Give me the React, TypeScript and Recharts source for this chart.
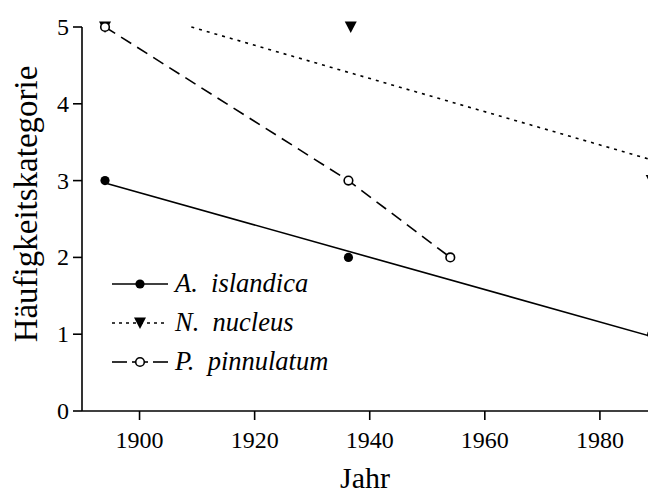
import React from 'react';
import { ComposedChart, Line, Scatter, XAxis, YAxis } from 'recharts';

const xTicks = [1900, 1920, 1940, 1960, 1980];
const yTicks = [0, 1, 2, 3, 4, 5];

// observed points
const islandicaPoints = [
  { year: 1894, value: 3 },
  { year: 1936.3, value: 2 },
  { year: 1989, value: 1 },
];
const nucleusPoints = [
  { year: 1894, value: 5 },
  { year: 1936.7, value: 5 },
  { year: 1989, value: 3 },
];
const pinnulatumPoints = [
  { year: 1894, value: 5 },
  { year: 1936.3, value: 3 },
  { year: 1954, value: 2 },
];
// fitted trend lines
const islandicaFit = [
  { year: 1894, value: 2.97 },
  { year: 1989, value: 0.97 },
];
const nucleusFit = [
  { year: 1909, value: 5 },
  { year: 1989, value: 3.27 },
];

const seriesNames = ['A. islandica', 'N. nucleus', 'P. pinnulatum'];

const FONT = '"Liberation Serif", "Times New Roman", serif';
const INK = '#000';

const DotFilled = (p: any) => <circle cx={p.cx} cy={p.cy} r={4.6} fill={INK} />;
const DotHollow = (p: any) => (
  <circle cx={p.cx} cy={p.cy} r={4.3} fill="#fff" stroke={INK} strokeWidth={1.6} />
);
const Tri = (p: any) => (
  <path
    d={`M${p.cx - 6},${p.cy - 5.5} L${p.cx + 6},${p.cy - 5.5} L${p.cx},${p.cy + 6} Z`}
    fill={INK}
  />
);

const XTick = (p: any) => (
  <text x={p.x} y={p.y} dy={24} textAnchor="middle" fontSize={24} fontFamily={FONT} fill={INK}>
    {p.payload.value}
  </text>
);
const YTick = (p: any) => (
  <text x={p.x} y={p.y} dy={8} textAnchor="end" fontSize={24} fontFamily={FONT} fill={INK}>
    {p.payload.value}
  </text>
);

const legendStyles = ['dot', 'tri', 'circle'];

const LegendBox = () => (
  <div
    style={{
      position: 'absolute',
      left: 112,
      top: 264,
      fontFamily: FONT,
      fontStyle: 'italic',
      fontSize: 26.5,
      color: INK,
    }}
  >
    {seriesNames.map((name, i) => {
      const mk = legendStyles[i];
      return (
        <div key={name} style={{ display: 'flex', alignItems: 'center', height: 39 }}>
          <svg width={58} height={20} style={{ overflow: 'visible' }}>
            {mk === 'dot' && <line x1={0} y1={10} x2={56} y2={10} stroke={INK} strokeWidth={1.6} />}
            {mk === 'tri' && (
              <line x1={0} y1={10} x2={56} y2={10} stroke={INK} strokeWidth={1.6} strokeDasharray="3 4" />
            )}
            {mk === 'circle' && (
              <>
                <line x1={0} y1={10} x2={15} y2={10} stroke={INK} strokeWidth={1.6} />
                <line x1={20} y1={10} x2={36} y2={10} stroke={INK} strokeWidth={1.6} />
                <line x1={41} y1={10} x2={56} y2={10} stroke={INK} strokeWidth={1.6} />
              </>
            )}
            {mk === 'dot' && <circle cx={28} cy={10} r={4.6} fill={INK} />}
            {mk === 'tri' && <path d="M22,4.5 L34,4.5 L28,16 Z" fill={INK} />}
            {mk === 'circle' && (
              <circle cx={28} cy={10} r={4.3} fill="#fff" stroke={INK} strokeWidth={1.6} />
            )}
          </svg>
          <span style={{ marginLeft: 5, whiteSpace: 'pre' }}>{name.replace('. ', '.  ')}</span>
        </div>
      );
    })}
  </div>
);

export default function App() {
  return (
    <div
      style={{
        position: 'absolute',
        left: 0,
        top: 0,
        width: 648,
        height: 500,
        overflow: 'hidden',
        background: '#fff',
        fontFamily: FONT,
      }}
    >
      <ComposedChart width={720} height={500} margin={{ top: 27, right: 5, bottom: 0, left: 0 }}>
        <XAxis
          type="number"
          dataKey="year"
          domain={[1890, 2000]}
          ticks={xTicks}
          allowDecimals={false}
          height={89}
          tickSize={9}
          tickMargin={4}
          axisLine={{ stroke: INK, strokeWidth: 1.6 }}
          tickLine={{ stroke: INK, strokeWidth: 1.6 }}
          tick={XTick}
          label={{
            content: (p: any) => {
              const vb = p.viewBox;
              return (
                <text x={vb.x + 283} y={vb.y + 77} textAnchor="middle" fontSize={30} fontFamily={FONT} fill={INK}>
                  Jahr
                </text>
              );
            },
          }}
        />
        <YAxis
          type="number"
          dataKey="value"
          domain={[0, 5]}
          ticks={yTicks}
          width={82}
          tickSize={9}
          tickMargin={4}
          axisLine={{ stroke: INK, strokeWidth: 1.6 }}
          tickLine={{ stroke: INK, strokeWidth: 1.6 }}
          tick={YTick}
          label={{
            content: (p: any) => {
              const vb = p.viewBox;
              const cx = vb.x + 26;
              const cy = vb.y + vb.height / 2 - 15;
              return (
                <text
                  x={cx}
                  y={cy}
                  transform={`rotate(-90 ${cx} ${cy})`}
                  textAnchor="middle"
                  dominantBaseline="central"
                  fontSize={33}
                  fontFamily={FONT}
                  fill={INK}
                >
                  Häufigkeitskategorie
                </text>
              );
            },
          }}
        />
        <Line
          data={islandicaFit}
          dataKey="value"
          stroke={INK}
          strokeWidth={1.6}
          dot={false}
          activeDot={false}
          isAnimationActive={false}
          legendType="none"
        />
        <Line
          data={nucleusFit}
          dataKey="value"
          stroke={INK}
          strokeWidth={1.6}
          strokeDasharray="3 5"
          dot={false}
          activeDot={false}
          isAnimationActive={false}
          legendType="none"
        />
        <Line
          data={pinnulatumPoints}
          dataKey="value"
          stroke={INK}
          strokeWidth={1.6}
          strokeDasharray="12 7"
          dot={false}
          activeDot={false}
          isAnimationActive={false}
          legendType="none"
        />
        <Scatter data={islandicaPoints} dataKey="value" shape={DotFilled} isAnimationActive={false} />
        <Scatter data={nucleusPoints} dataKey="value" shape={Tri} isAnimationActive={false} />
        <Scatter data={pinnulatumPoints} dataKey="value" shape={DotHollow} isAnimationActive={false} />
      </ComposedChart>
      <LegendBox />
    </div>
  );
}
